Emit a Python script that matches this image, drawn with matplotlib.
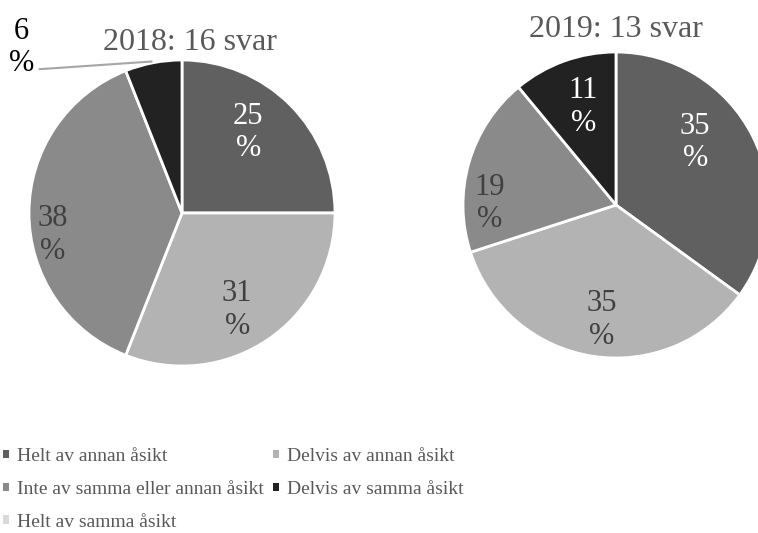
import matplotlib
matplotlib.use("Agg")
import matplotlib.pyplot as plt
from matplotlib.patches import Patch
import numpy as np

categories = ["Helt av annan åsikt", "Delvis av annan åsikt",
              "Inte av samma eller annan åsikt", "Delvis av samma åsikt",
              "Helt av samma åsikt"]
values_2018 = [25, 31, 38, 6, 0]
values_2019 = [35, 35, 19, 11, 0]
title_2018 = "2018: 16 svar"
title_2019 = "2019: 13 svar"

colors = ["#606060", "#b3b3b3", "#8a8a8a", "#222222", "#d9d9d9"]
label_colors = ["white", "#404040", "#404040", "white", "#404040"]

plt.rcParams['font.family'] = ['Liberation Serif', 'DejaVu Serif']

W, H = 758, 533
fig = plt.figure(figsize=(W / 100, H / 100), dpi=100)

R = 153  # pie radius in pixels


def pie_axes(cx, cy):
    # cx, cy in pixel coords from top-left
    return fig.add_axes([(cx - R) / W, (H - cy - R) / H, 2 * R / W, 2 * R / H])


def draw_pie(ax, vals, label_r, label_ang_off, outside=None):
    idx = [i for i, v in enumerate(vals) if v > 0]
    v = [vals[i] for i in idx]
    c = [colors[i] for i in idx]
    wedges, _ = ax.pie(v, colors=c, startangle=90, counterclock=False, radius=1,
                       wedgeprops=dict(edgecolor="white", linewidth=2.0))
    for k, (w, i) in enumerate(zip(wedges, idx)):
        mid = np.deg2rad((w.theta1 + w.theta2) / 2 + label_ang_off[k])
        if outside is not None and k == outside[0]:
            continue
        x, y = label_r[k] * np.cos(mid), label_r[k] * np.sin(mid)
        ax.text(x, y, f"{vals[i]}\n%", ha="center", va="center", fontsize=22,
                color=label_colors[i], linespacing=1.15)
    ax.set_xlim(-1, 1)
    ax.set_ylim(-1, 1)
    ax.set_aspect("equal")
    ax.axis("off")
    for w in wedges:
        w.set_clip_on(False)
    return wedges


ax1 = pie_axes(182, 213)
draw_pie(ax1, values_2018, [0.68, 0.73, 0.855, 0.0], [5.5, -4.6, 9.7, 0], outside=(3,))
# outside label for 6 %
ax1.text(-1.05, 1.08, f"{values_2018[3]}\n%", ha="center", va="center",
         fontsize=22, color="black", linespacing=1.15, clip_on=False)
ax1.plot([-0.93, -0.20], [0.94, 0.99], color="#a6a6a6", lw=1.5, clip_on=False)
ax1.text(0.05, 1.115, title_2018, ha="center", va="center", fontsize=23,
         color="#595959", clip_on=False)

ax2 = pie_axes(616, 205)
draw_pie(ax2, values_2019, [0.66, 0.757, 0.824, 0.676], [11.4, 2.1, 15.5, -1.4])
ax2.text(0.0, 1.148, title_2019, ha="center", va="center", fontsize=23,
         color="#595959", clip_on=False)

order = [0, 2, 4, 1, 3]
handles = [Patch(facecolor=colors[i], edgecolor="none", label=categories[i]) for i in order]
fig.legend(handles=handles, loc="upper left", bbox_to_anchor=(3 / W, 1 - 448 / H),
           ncol=2, frameon=False, fontsize=14, handlelength=0.32, handleheight=0.32,
           handletextpad=0.38, columnspacing=0.5, labelspacing=0.82, borderpad=0,
           borderaxespad=0, labelcolor="#595959")

fig.savefig("out.png", dpi=100)
